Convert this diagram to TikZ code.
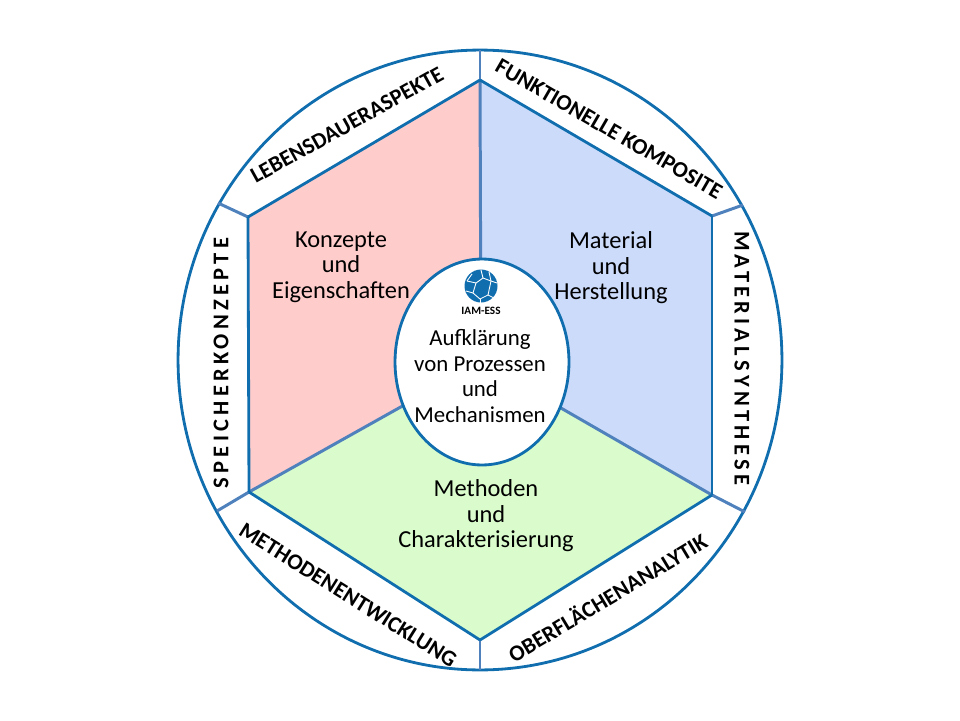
\documentclass[tikz,border=0pt]{standalone}
\usepackage{fontspec}
\setmainfont{Carlito}
\usetikzlibrary{calc,shapes.geometric}
\definecolor{ringblue}{RGB}{16,110,175}
\definecolor{spokeblue}{RGB}{79,129,189}
\definecolor{red}{RGB}{255,204,204}
\definecolor{blue}{RGB}{204,219,250}
\definecolor{green}{RGB}{218,252,204}

\begin{document}
\begin{tikzpicture}[x=0.02cm,y=-0.02cm]
			\tikzset{line/.style={draw=ringblue,line width=1.6pt}}
			\tikzset{spoke/.style={draw=spokeblue,line width=1.7pt}}
			\tikzset{oval/.style={line,shape=ellipse,inner sep=0pt}}
			\tikzset{field/.style={font=\fontsize{13.9}{14.5}\selectfont,align=center,text=black}}
			\tikzset{midfield/.style={field,font=\fontsize{13}{14.5}\selectfont}}
			\tikzset{rim/.style={font=\fontsize{12.8}{14}\selectfont\bfseries,inner sep=0pt,text=black}}
			\tikzset{wide/.style={rim,font=\fontsize{12.8}{14}\selectfont\bfseries\addfontfeature{LetterSpace=19}}}
			\tikzset{crack/.style={draw=white,line width=0.5pt}}

			\useasboundingbox (0,0) rectangle (960,720);

			% Hexagon corners
			\coordinate (h1) at (480, 80);
			\coordinate (h2) at (712, 216);
			\coordinate (h3) at (712, 495);
			\coordinate (h4) at (480, 640);
			\coordinate (h5) at (249, 492);
			\coordinate (h6) at (248, 217);
			\coordinate (c) at (481, 362);

			% Ends on the ring
			\coordinate (r1) at (480, 50);
			\coordinate (r2) at (743, 205);
			\coordinate (r3) at (745, 512);
			\coordinate (r4) at (480, 670);
			\coordinate (r5) at (217, 511);
			\coordinate (r6) at (218, 203);

			\fill[red] (h1) -- (h6) -- (h5) -- (c) -- cycle;
			\fill[blue] (h1) -- (h2) -- (h3) -- (c) -- cycle;
			\fill[green] (h3) -- (h4) -- (h5) -- (c) -- cycle;

			\node[oval,minimum width=12.08cm,minimum height=12.4cm] (ring) at (480, 360) {};

			\path[spoke] (r1) to (h1);
			\path[spoke] (r2) to (h2);
			\path[spoke] (r3) to (h3);
			\path[spoke] (r4) to (h4);
			\path[spoke] (r5) to (h5);
			\path[spoke] (r6) to (h6);

			\path[spoke] (h1) to (c);
			\path[spoke] (h3) to (c);
			\path[spoke] (h5) to (c);

			\path[line] (h1) to (h2);
			\path[line] (h2) to (h3);
			\path[line] (h3) to (h4);
			\path[line] (h4) to (h5);
			\path[line] (h5) to (h6);
			\path[line] (h6) to (h1);

			\node[oval,fill=white,minimum width=3.48cm,minimum height=4.12cm] (core) at (482, 362) {};

			% Logo
			\fill[ringblue] (481, 286) circle [radius=16.5];
			\path[crack] (467, 281) -- (476, 283) -- (483, 278) -- (491, 281) -- (497, 283);
			\path[crack] (476, 283) -- (473, 293) -- (480, 299) -- (488, 295) -- (491, 281);
			\path[crack] (473, 293) -- (466, 291);
			\path[crack] (480, 299) -- (480, 303);
			\path[crack] (488, 295) -- (494, 298);
			\path[crack] (483, 278) -- (481, 270);
			\path[crack] (467, 281) -- (472, 274);
			\path[crack] (491, 281) -- (489, 272);

			\node[font=\fontsize{6.4}{7}\selectfont\bfseries,inner sep=0pt] (logo) at (481, 311) {IAM-ESS};

			\node[midfield] (mid) at (480, 376) {Aufklärung\\von Prozessen\\und\\Mechanismen};
			\node[field] (left) at (341, 267) {Konzepte\\und\\Eigenschaften};
			\node[field] (right) at (611, 268) {Material\\und\\Herstellung};
			\node[field] (down) at (486, 516) {Methoden\\und\\Charakterisierung};

			\node[rim,rotate=29] (t1) at (347, 125) {LEBENSDAUERASPEKTE};
			\node[rim,rotate=-30] (t2) at (609, 129) {FUNKTIONELLE KOMPOSITE};
			\node[wide,rotate=-90] (t3) at (742, 358) {MATERIALSYNTHESE};
			\node[rim,rotate=31] (t4) at (607, 597) {OBERFLÄCHENANALYTIK};
			\node[rim,rotate=-32] (t5) at (348, 595) {METHODENENTWICKLUNG};
			\node[wide,rotate=90] (t6) at (221, 363) {SPEICHERKONZEPTE};
		\end{tikzpicture}
\end{document}
